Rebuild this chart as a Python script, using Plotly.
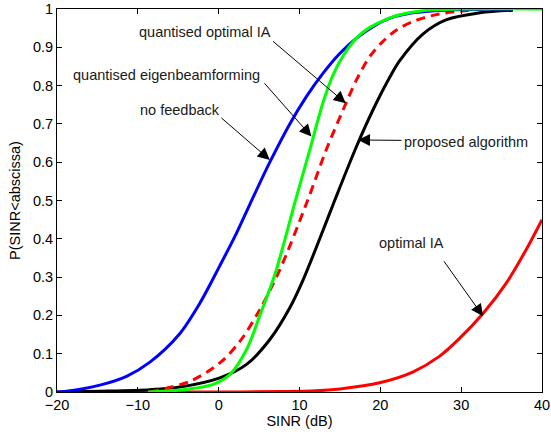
import plotly.graph_objects as go

# ---- data ----
nofb_x = [-20, -18.8, -14.7, -11.4, -8.5, -4.9, -2.32, 0.15, 2.21, 3.86, 6.33, 8.8, 10.87, 12.9, 14.98, 17.05, 19.1, 21.2, 24, 28, 36.4]
nofb_y = [0, 0.002, 0.018, 0.041, 0.078, 0.15, 0.232, 0.33, 0.415, 0.49, 0.60, 0.70, 0.772, 0.832, 0.884, 0.924, 0.954, 0.976, 0.99, 0.997, 1.0]

qebf_x = [-8.75, -4.8, -0.7, 1.4, 3.45, 5.1, 7.0, 9.5, 11.27, 12.9, 14.15, 15.4, 17.05, 18.7, 21.2, 22.4, 25, 30, 40]
qebf_y = [0, 0.005, 0.02, 0.046, 0.111, 0.20, 0.31, 0.5, 0.632, 0.755, 0.828, 0.878, 0.924, 0.952, 0.977, 0.985, 0.995, 1, 1]

qoia_x = [-8.5, -3.56, 0.15, 2.62, 5.09, 7.56, 11.0, 13.3, 15.4, 17.05, 18.7, 20.3, 22.0, 24.0, 27.3, 33]
qoia_y = [0, 0.028, 0.076, 0.132, 0.215, 0.319, 0.5, 0.632, 0.737, 0.815, 0.876, 0.915, 0.945, 0.967, 0.987, 1.0]

prop_x = [-20, -14.7, -8.5, -4.8, 0.15, 3.45, 6.33, 8.8, 10.45, 12.5, 14.35, 17.05, 19.1, 21.2, 22.4, 25.3, 28.2, 32.3, 36.4]
prop_y = [0, 0.002, 0.006, 0.013, 0.037, 0.072, 0.137, 0.22, 0.293, 0.40, 0.5, 0.641, 0.737, 0.823, 0.865, 0.935, 0.972, 0.99, 0.997]

oia_x = [-12, 0, 7.6, 12, 15, 19.9, 24.0, 27.3, 29.8, 32.7, 35.6, 38.05, 40]
oia_y = [0, 0, 0.001, 0.003, 0.008, 0.024, 0.052, 0.093, 0.14, 0.205, 0.285, 0.372, 0.45]

x_ticks = [-20, -10, 0, 10, 20, 30, 40]
y_ticks = [0, 0.1, 0.2, 0.3, 0.4, 0.5, 0.6, 0.7, 0.8, 0.9, 1]
y_tick_labels = ["0", "0.1", "0.2", "0.3", "0.4", "0.5", "0.6", "0.7", "0.8", "0.9", "1"]

# annotations: label, text position, arrow tail, arrow tip (data coords)
labels = ["quantised optimal IA", "quantised eigenbeamforming", "no feedback", "proposed algorithm", "optimal IA"]
label_pos = [(-1.7, 0.940), (-6.5, 0.828), (-4.8, 0.737), (30.6, 0.654), (23.9, 0.39)]
arrow_tail = [(6.54, 0.919), (5.50, 0.810), (0.15, 0.719), (22.8, 0.657), (27.75, 0.345)]
arrow_tip = [(15.72, 0.754), (11.48, 0.667), (6.33, 0.606), (17.24, 0.658), (32.7, 0.198)]

FONT = "Liberation Sans, Arial, sans-serif"
FS = 14.5
fig = go.Figure()
lw = 3
sm = 0.9
fig.add_trace(go.Scatter(x=oia_x, y=oia_y, mode="lines", line=dict(color="#ff0000", width=lw, shape="spline", smoothing=sm)))
fig.add_trace(go.Scatter(x=prop_x, y=prop_y, mode="lines", line=dict(color="#000000", width=lw, shape="spline", smoothing=sm)))
fig.add_trace(go.Scatter(x=qoia_x, y=qoia_y, mode="lines", line=dict(color="#ff0000", width=lw, dash="9px,6px", shape="spline", smoothing=sm)))
fig.add_trace(go.Scatter(x=nofb_x, y=nofb_y, mode="lines", line=dict(color="#0000ff", width=lw, shape="spline", smoothing=sm)))
fig.add_trace(go.Scatter(x=qebf_x, y=qebf_y, mode="lines", line=dict(color="#00ff00", width=lw, shape="spline", smoothing=sm)))

annots = []
for lab, (tx, ty) in zip(labels, label_pos):
    annots.append(dict(x=tx, y=ty, xref="x", yref="y", text=lab, showarrow=False,
                       font=dict(family=FONT, size=FS, color="#1a1a1a")))
for (ax, ay), (hx, hy) in zip(arrow_tail, arrow_tip):
    annots.append(dict(x=hx, y=hy, xref="x", yref="y", ax=ax, ay=ay, axref="x", ayref="y",
                       text="", showarrow=True, arrowhead=2, arrowsize=2.4, arrowwidth=1,
                       arrowcolor="#000000", standoff=0, startstandoff=0))

axis_common = dict(showline=True, linecolor="black", linewidth=1, mirror="ticks", ticks="inside",
                   ticklen=5, tickcolor="black", showgrid=False, zeroline=False, automargin=False,
                   tickfont=dict(family=FONT, size=FS, color="#000000"))

fig.update_layout(
    width=551, height=436,
    margin=dict(l=57, r=9, t=9, b=44),
    paper_bgcolor="white", plot_bgcolor="white",
    showlegend=False,
    hovermode=False,
    annotations=annots,
    xaxis=dict(range=[-20, 40], tickvals=x_ticks, title=dict(text="SINR (dB)", standoff=3,
               font=dict(family=FONT, size=FS, color="#000000")), **axis_common),
    yaxis=dict(range=[0, 1], tickvals=y_ticks, ticktext=y_tick_labels,
               title=dict(text="P(SINR&lt;abscissa)", standoff=8, font=dict(family=FONT, size=FS, color="#000000")),
               **axis_common),
)
fig.write_html("out.html", config={"displayModeBar": False},
               post_script="document.body.style.margin='0';document.body.style.padding='0';")
